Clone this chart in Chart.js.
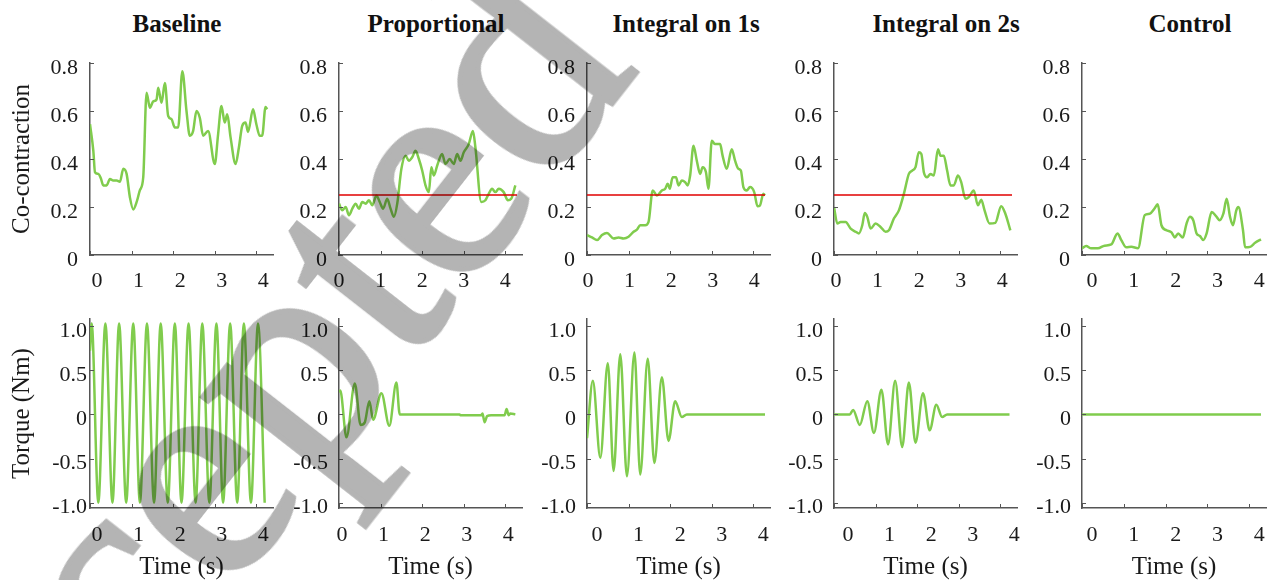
<!DOCTYPE html>
<html>
<head>
<meta charset="utf-8">
<script src="https://cdn.jsdelivr.net/npm/chart.js@4.4.1/dist/chart.umd.min.js"></script>
<style>
  html, body { margin: 0; padding: 0; width: 1267px; height: 580px; overflow: hidden; background: #fff; }
  canvas { position: absolute; }
  .titulo { position: absolute; top: 9px; width: 300px; text-align: center;
            font: bold 25px/30px "Liberation Serif", "Times New Roman", serif; color: #111; }
  .marca { position: absolute; left: -81px; top: 992px; white-space: nowrap; pointer-events: none;
           font: 310px/1 "Liberation Serif", "Times New Roman", serif; color: #b4b4b4;
           -webkit-text-stroke: 5px #b4b4b4;
           mix-blend-mode: multiply; transform-origin: 0 0;
           transform: rotate(-52deg) translateY(-0.8375em); }
</style>
</head>
<body>
<script>
// Títulos das colunas e ticks dos eixos
const titulosColunas = ['Baseline', 'Proportional', 'Integral on 1s', 'Integral on 2s', 'Control'];
const ticksTempo = [0, 1, 2, 3, 4];
const ticksCoContracao = [0, 0.2, 0.4, 0.6, 0.8];
const ticksTorque = [-1, -0.5, 0, 0.5, 1];
const limiarCoContracao = 0.25;
const tempoLimiar = [0, 4.28];

// Co-contração (linha de cima)
const tempoCoBaseline = [0, 0.08, 0.12, 0.2, 0.26, 0.32, 0.4, 0.48, 0.56, 0.64, 0.72, 0.8, 0.88, 0.96, 1.04, 1.12, 1.2, 1.28, 1.36, 1.44, 1.52, 1.6, 1.64, 1.72, 1.8, 1.88, 1.96, 2.04, 2.12, 2.22, 2.32, 2.4, 2.48, 2.56, 2.64, 2.72, 2.84, 3.0, 3.08, 3.16, 3.24, 3.3, 3.38, 3.5, 3.58, 3.66, 3.74, 3.8, 3.92, 4.0, 4.08, 4.14, 4.22, 4.26];
const coBaseline = [0.545, 0.434, 0.345, 0.338, 0.32, 0.29, 0.29, 0.317, 0.31, 0.31, 0.305, 0.359, 0.338, 0.24, 0.19, 0.22, 0.27, 0.324, 0.676, 0.614, 0.64, 0.648, 0.697, 0.634, 0.717, 0.579, 0.566, 0.531, 0.531, 0.766, 0.6, 0.497, 0.517, 0.6, 0.572, 0.497, 0.517, 0.379, 0.503, 0.621, 0.552, 0.586, 0.49, 0.379, 0.448, 0.538, 0.552, 0.513, 0.607, 0.545, 0.497, 0.497, 0.617, 0.607];

const tempoCoProporcional = [0, 0.08, 0.16, 0.24, 0.32, 0.4, 0.48, 0.56, 0.64, 0.72, 0.8, 0.9, 0.98, 1.06, 1.16, 1.24, 1.32, 1.4, 1.5, 1.6, 1.68, 1.76, 1.84, 1.92, 2.0, 2.08, 2.16, 2.22, 2.28, 2.36, 2.48, 2.56, 2.66, 2.76, 2.84, 2.92, 3.0, 3.12, 3.22, 3.28, 3.42, 3.52, 3.6, 3.68, 3.76, 3.84, 3.96, 4.06, 4.14, 4.24];
const coProporcional = [0.214, 0.186, 0.2, 0.166, 0.193, 0.214, 0.193, 0.221, 0.214, 0.228, 0.207, 0.248, 0.221, 0.193, 0.234, 0.193, 0.159, 0.214, 0.359, 0.414, 0.393, 0.407, 0.434, 0.4, 0.352, 0.29, 0.262, 0.366, 0.331, 0.372, 0.421, 0.379, 0.4, 0.379, 0.421, 0.393, 0.428, 0.462, 0.517, 0.448, 0.221, 0.228, 0.255, 0.276, 0.262, 0.276, 0.262, 0.228, 0.234, 0.29];

const tempoCoIntegral1 = [0, 0.12, 0.24, 0.36, 0.48, 0.64, 0.76, 0.88, 1.0, 1.12, 1.2, 1.28, 1.4, 1.48, 1.58, 1.68, 1.8, 1.88, 1.94, 1.99, 2.06, 2.14, 2.2, 2.28, 2.36, 2.42, 2.48, 2.56, 2.64, 2.72, 2.78, 2.86, 2.92, 3.0, 3.08, 3.2, 3.26, 3.36, 3.48, 3.56, 3.64, 3.7, 3.76, 3.84, 3.92, 4.02, 4.1, 4.16, 4.24, 4.28];
const coIntegral1 = [0.083, 0.073, 0.062, 0.083, 0.092, 0.069, 0.073, 0.069, 0.076, 0.097, 0.106, 0.124, 0.124, 0.138, 0.269, 0.248, 0.269, 0.276, 0.297, 0.276, 0.324, 0.324, 0.29, 0.31, 0.303, 0.29, 0.331, 0.455, 0.393, 0.338, 0.366, 0.345, 0.276, 0.476, 0.462, 0.462, 0.414, 0.359, 0.441, 0.393, 0.359, 0.352, 0.283, 0.269, 0.283, 0.262, 0.203, 0.207, 0.255, 0.248];

const tempoCoIntegral2 = [0, 0.08, 0.16, 0.28, 0.4, 0.52, 0.6, 0.68, 0.74, 0.8, 0.88, 1.0, 1.12, 1.24, 1.32, 1.44, 1.56, 1.68, 1.8, 1.88, 1.96, 2.04, 2.1, 2.16, 2.24, 2.32, 2.4, 2.5, 2.56, 2.64, 2.72, 2.8, 2.88, 2.98, 3.06, 3.16, 3.24, 3.36, 3.46, 3.54, 3.62, 3.74, 3.88, 4.02, 4.12, 4.24];
const coIntegral2 = [0.2, 0.131, 0.138, 0.138, 0.11, 0.097, 0.09, 0.124, 0.175, 0.159, 0.11, 0.131, 0.117, 0.097, 0.103, 0.152, 0.186, 0.255, 0.338, 0.352, 0.366, 0.428, 0.421, 0.345, 0.324, 0.338, 0.331, 0.441, 0.414, 0.414, 0.352, 0.29, 0.29, 0.331, 0.303, 0.234, 0.241, 0.269, 0.207, 0.23, 0.186, 0.131, 0.134, 0.203, 0.172, 0.103];

const tempoCoControle = [0, 0.1, 0.22, 0.38, 0.54, 0.7, 0.85, 0.94, 1.06, 1.18, 1.34, 1.5, 1.62, 1.73, 1.81, 1.9, 2.02, 2.14, 2.22, 2.3, 2.41, 2.5, 2.58, 2.66, 2.74, 2.82, 2.9, 2.98, 3.1, 3.21, 3.29, 3.38, 3.46, 3.54, 3.61, 3.69, 3.74, 3.85, 3.9, 4.02, 4.14, 4.28];
const coControle = [0.028, 0.037, 0.028, 0.028, 0.039, 0.044, 0.09, 0.062, 0.032, 0.034, 0.028, 0.166, 0.172, 0.193, 0.211, 0.124, 0.103, 0.094, 0.073, 0.09, 0.073, 0.131, 0.159, 0.145, 0.09, 0.079, 0.062, 0.09, 0.179, 0.161, 0.145, 0.172, 0.234, 0.159, 0.124, 0.186, 0.2, 0.103, 0.032, 0.034, 0.051, 0.065];

// Torque (linha de baixo)
const tempoTqBaseline = [0, 0.04, 0.2, 0.37, 0.54, 0.7, 0.87, 1.04, 1.2, 1.37, 1.54, 1.7, 1.87, 2.04, 2.2, 2.37, 2.54, 2.7, 2.87, 3.04, 3.2, 3.37, 3.54, 3.7, 3.87, 4.04, 4.2];
const tqBaseline = [0.72, 1.03, -1.0, 1.03, -1.0, 1.03, -1.0, 1.03, -1.0, 1.03, -1.0, 1.03, -1.0, 1.03, -1.0, 1.03, -1.0, 1.03, -1.0, 1.03, -1.0, 1.03, -1.0, 1.03, -1.0, 1.03, -1.0];

const tempoTqProporcional = [0, 0.03, 0.18, 0.38, 0.52, 0.62, 0.73, 0.82, 1.02, 1.21, 1.38, 1.46, 2.9, 2.92, 3.42, 3.45, 3.5, 3.56, 3.66, 3.98, 4.03, 4.08, 4.12, 4.24];
const tqProporcional = [0.25, 0.27, -0.26, 0.35, -0.12, -0.09, 0.15, -0.06, 0.24, -0.13, 0.36, 0.0, 0.0, -0.01, -0.01, 0.01, -0.09, -0.02, -0.01, -0.01, 0.06, -0.01, 0.01, 0.0];

const tempoTqIntegral1 = [0, 0.14, 0.32, 0.5, 0.64, 0.8, 0.96, 1.14, 1.28, 1.46, 1.62, 1.8, 1.96, 2.12, 2.28, 2.4, 4.28];
const tqIntegral1 = [-0.27, 0.38, -0.49, 0.58, -0.64, 0.68, -0.7, 0.7, -0.68, 0.63, -0.55, 0.42, -0.3, 0.15, -0.03, 0, 0];

const tempoTqIntegral2 = [0, 0.38, 0.46, 0.62, 0.8, 0.96, 1.14, 1.3, 1.47, 1.64, 1.8, 1.96, 2.14, 2.3, 2.46, 2.6, 2.72, 4.22];
const tqIntegral2 = [0, 0, 0.05, -0.12, 0.15, -0.21, 0.28, -0.34, 0.38, -0.37, 0.36, -0.32, 0.24, -0.18, 0.11, -0.03, 0, 0];

const tempoTqControle = [0, 4.28];
const tqControle = [0, 0];

// Cores e fontes
const corVerde = 'rgb(128, 204, 77)';
const corLimiar = '#e00000';
const corEixo = '#555';
const corTexto = '#1a1a1a';
const fonteSerif = '"Liberation Serif", "Times New Roman", serif';

// Posição dos eixos de cada coluna (em px)
const eixoEsq = [90, 339, 587, 834, 1082];
const eixoDir = [273, 522, 770, 1017, 1266];
const deslocRotuloX = [[7, 0, 1, 2, 10], [7, 3, 10, 14, 10]];

// Marcas de tick para dentro da área do gráfico
const marcasInternas = {
  id: 'marcasInternas',
  afterDraw(chart) {
    const { ctx, chartArea, scales } = chart;
    ctx.save();
    ctx.strokeStyle = corEixo;
    ctx.lineWidth = 1;
    scales.x.ticks.forEach(t => {
      const px = Math.round(scales.x.getPixelForValue(t.value)) + 0.5;
      ctx.beginPath();
      ctx.moveTo(px, chartArea.bottom);
      ctx.lineTo(px, chartArea.bottom - 4);
      ctx.stroke();
    });
    scales.y.ticks.forEach(t => {
      const py = Math.round(scales.y.getPixelForValue(t.value)) + 0.5;
      ctx.beginPath();
      ctx.moveTo(chartArea.left, py);
      ctx.lineTo(chartArea.left + 4, py);
      ctx.stroke();
    });
    ctx.restore();
  }
};

function pontos(tempo, valores) {
  return tempo.map((x, i) => ({ x: x, y: valores[i] }));
}

function criarPainel(linha, col, tempo, valores, comLimiar) {
  const larguraY = col === 0 ? 90 : 60;
  const larguraArea = eixoDir[col] - eixoEsq[col];
  const topoCanvas = linha === 0 ? 40 : 290;
  const alturaCanvas = linha === 0 ? 250 : 290;
  const paddingTopo = linha === 0 ? 22 : 29;
  const alturaX = linha === 0 ? 35 : 72;

  const canvas = document.createElement('canvas');
  canvas.width = larguraY + larguraArea + 10;
  canvas.height = alturaCanvas;
  canvas.style.left = (eixoEsq[col] - larguraY) + 'px';
  canvas.style.top = topoCanvas + 'px';
  document.body.appendChild(canvas);

  const datasets = [];
  if (comLimiar) {
    datasets.push({
      data: pontos(tempoLimiar, [limiarCoContracao, limiarCoContracao]),
      borderColor: corLimiar,
      borderWidth: 1.5,
      pointRadius: 0
    });
  }
  datasets.push({
    data: pontos(tempo, valores),
    borderColor: corVerde,
    borderWidth: 2.5,
    pointRadius: 0,
    cubicInterpolationMode: 'monotone'
  });

  const ticksY = linha === 0 ? ticksCoContracao : ticksTorque;
  const fonteTick = { family: fonteSerif, size: 22, lineHeight: 1 };
  const fonteTituloEixo = { family: fonteSerif, size: 25, lineHeight: 1 };

  new Chart(canvas.getContext('2d'), {
    type: 'line',
    data: { datasets },
    options: {
      responsive: false,
      animation: false,
      events: [],
      layout: { padding: { top: paddingTopo, right: 10, bottom: 0, left: 0 } },
      plugins: { legend: { display: false }, tooltip: { enabled: false } },
      scales: {
        x: {
          type: 'linear',
          min: 0,
          max: 4.4,
          grid: { display: false, drawTicks: false },
          border: { display: true, color: corEixo, width: 1.5 },
          afterBuildTicks: s => { s.ticks = ticksTempo.map(v => ({ value: v })); },
          afterFit: s => { s.height = alturaX; },
          ticks: {
            font: fonteTick,
            color: corTexto,
            padding: linha === 0 ? 15 : 16,
            labelOffset: deslocRotuloX[linha][col],
            maxRotation: 0,
            callback: v => String(v)
          },
          title: {
            display: linha === 1,
            text: 'Time (s)',
            font: fonteTituloEixo,
            color: corTexto,
            padding: { top: 0, bottom: 0 }
          }
        },
        y: {
          min: linha === 0 ? 0 : -1.06,
          max: linha === 0 ? 0.8 : 1.08,
          grid: { display: false, drawTicks: false },
          border: { display: true, color: corEixo, width: 1.5 },
          afterBuildTicks: s => { s.ticks = ticksY.map(v => ({ value: v })); },
          afterFit: s => { s.width = larguraY; },
          ticks: {
            font: fonteTick,
            color: corTexto,
            padding: linha === 0 ? 12 : (col === 0 ? 3 : 11),
            labelOffset: 5,
            callback: v => (v === 0 ? '0' : v.toFixed(1))
          },
          title: {
            display: col === 0,
            text: linha === 0 ? 'Co-contraction' : 'Torque (Nm)',
            font: fonteTituloEixo,
            color: corTexto,
            padding: { top: 9.5, bottom: 0 }
          }
        }
      }
    },
    plugins: [marcasInternas]
  });
}

// Títulos das colunas
const centroTitulo = [177, 436, 686, 946, 1190];
titulosColunas.forEach((texto, i) => {
  const div = document.createElement('div');
  div.className = 'titulo';
  div.style.left = (centroTitulo[i] - 150) + 'px';
  div.textContent = texto;
  document.body.appendChild(div);
});

// Linha de cima: co-contração
criarPainel(0, 0, tempoCoBaseline, coBaseline, false);
criarPainel(0, 1, tempoCoProporcional, coProporcional, true);
criarPainel(0, 2, tempoCoIntegral1, coIntegral1, true);
criarPainel(0, 3, tempoCoIntegral2, coIntegral2, true);
criarPainel(0, 4, tempoCoControle, coControle, false);

// Linha de baixo: torque
criarPainel(1, 0, tempoTqBaseline, tqBaseline, false);
criarPainel(1, 1, tempoTqProporcional, tqProporcional, false);
criarPainel(1, 2, tempoTqIntegral1, tqIntegral1, false);
criarPainel(1, 3, tempoTqIntegral2, tqIntegral2, false);
criarPainel(1, 4, tempoTqControle, tqControle, false);

// Marca d'água por cima de tudo
const marca = document.createElement('div');
marca.className = 'marca';
marca.textContent = 'Accepted';
document.body.appendChild(marca);
</script>
</body>
</html>
